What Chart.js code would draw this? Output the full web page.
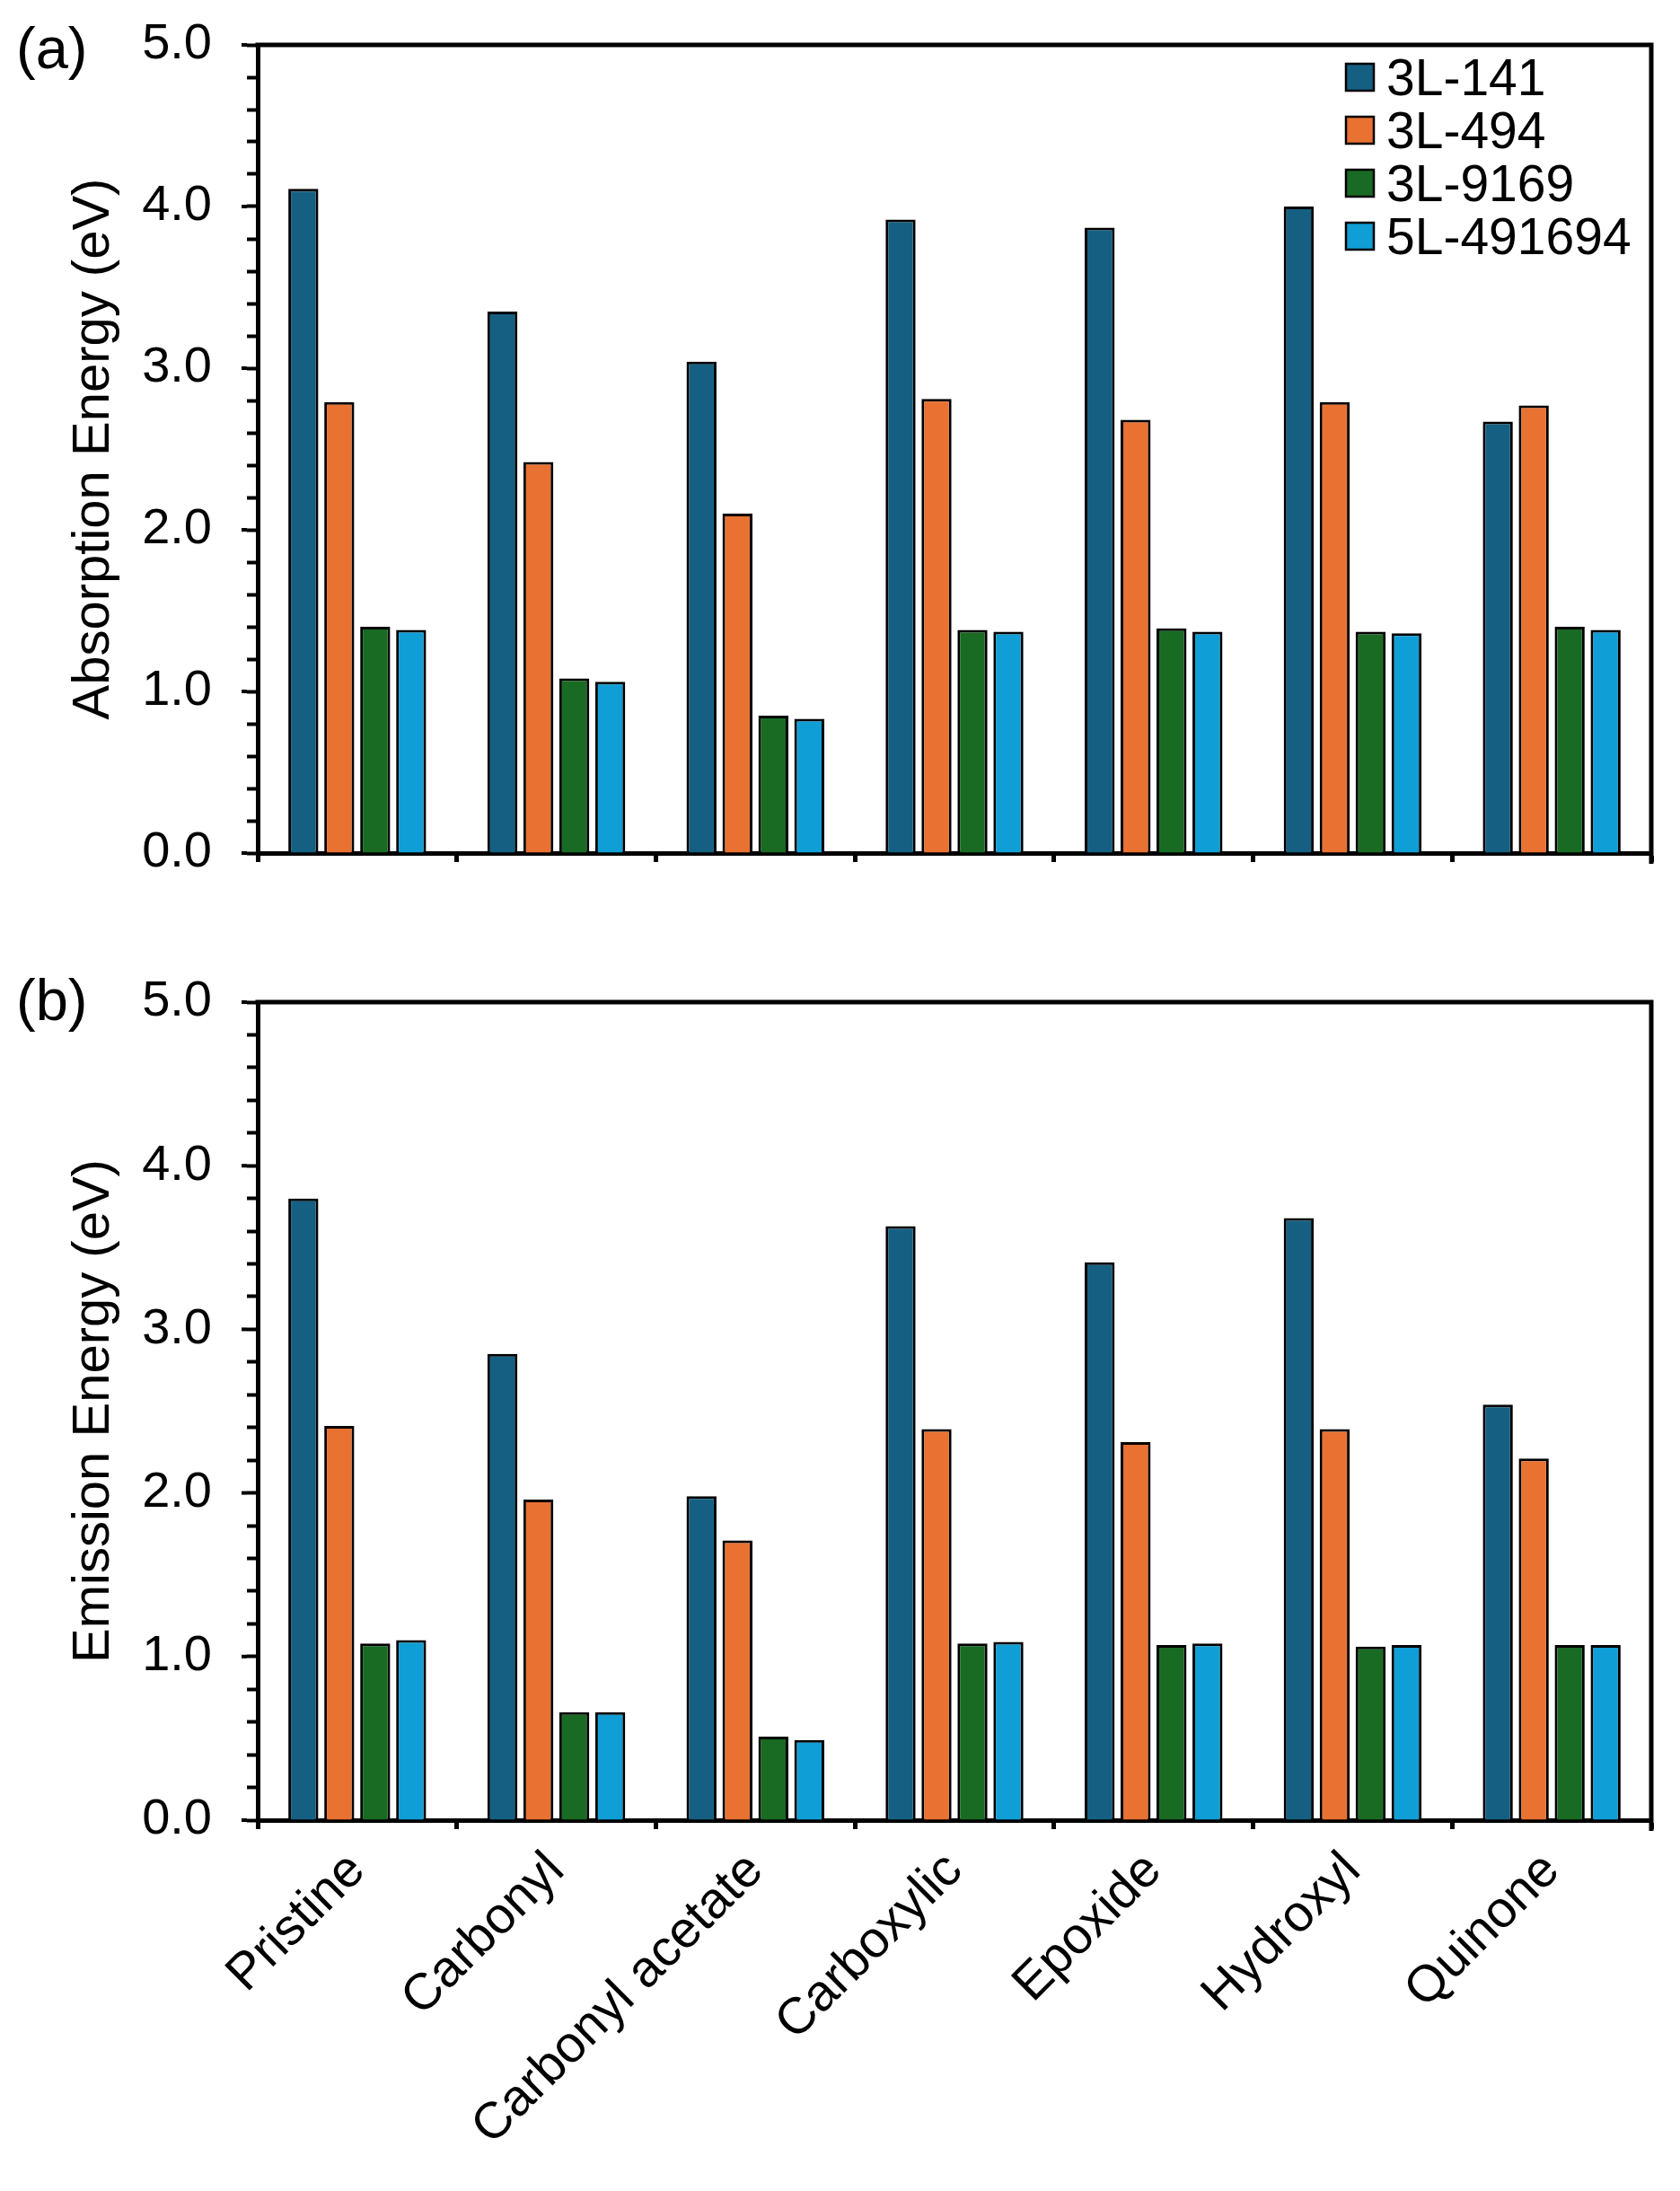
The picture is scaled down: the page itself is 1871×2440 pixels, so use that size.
<!DOCTYPE html>
<html lang="en">
<head>
<meta charset="UTF-8">
<title>Absorption and Emission Energy</title>
<script src="https://cdn.jsdelivr.net/npm/chart.js"></script>
<style>
  body { margin: 0; background: #fff; }
  #wrap { position: relative; width: 1871px; height: 2440px; }
  canvas { position: absolute; left: 0; }
  #chartA { top: 0; }
  #chartB { top: 1040px; }
</style>
</head>
<body>
<div id="wrap">
  <canvas id="chartA" width="1871" height="1040"></canvas>
  <canvas id="chartB" width="1871" height="1400"></canvas>
</div>
<script>
const categories = ['Pristine', 'Carbonyl', 'Carbonyl acetate', 'Carboxylic', 'Epoxide', 'Hydroxyl', 'Quinone'];
const seriesNames = ['3L-141', '3L-494', '3L-9169', '5L-491694'];
const seriesColors = ['#156082', '#E97132', '#196B24', '#0F9ED5'];

// (a) absorption energy (eV)
const abs3L141 = [4.11, 3.35, 3.04, 3.92, 3.87, 4.00, 2.67];
const abs3L494 = [2.79, 2.42, 2.10, 2.81, 2.68, 2.79, 2.77];
const abs3L9169 = [1.40, 1.08, 0.85, 1.38, 1.39, 1.37, 1.40];
const abs5L491694 = [1.38, 1.06, 0.83, 1.37, 1.37, 1.36, 1.38];

// (b) emission energy (eV)
const em3L141 = [3.80, 2.85, 1.98, 3.63, 3.41, 3.68, 2.54];
const em3L494 = [2.41, 1.96, 1.71, 2.39, 2.31, 2.39, 2.21];
const em3L9169 = [1.08, 0.66, 0.51, 1.08, 1.07, 1.06, 1.07];
const em5L491694 = [1.10, 0.66, 0.49, 1.09, 1.08, 1.07, 1.07];

const yMin = 0, yMax = 5, yStep = 0.2;

Chart.defaults.font.family = '"Liberation Sans", Arial, sans-serif';
Chart.defaults.color = '#000';

// box around the plot + longer major ticks
const framePlugin = {
    id: 'frame',
    afterDraw(chart) {
        const { ctx, chartArea: a } = chart;
        const ys = chart.scales.y;
        ctx.save();
        ctx.strokeStyle = '#000';
        ctx.lineWidth = 5;
        ctx.beginPath();
        ctx.moveTo(a.left - 2.5, a.top);
        ctx.lineTo(a.right, a.top);
        ctx.lineTo(a.right, a.bottom + 12);
        ctx.stroke();
        ctx.lineWidth = 4;
        for (let v = yMin; v <= yMax; v++) {
            const py = ys.getPixelForValue(v);
            ctx.beginPath();
            ctx.moveTo(a.left - 12, py);
            ctx.lineTo(a.left - 18, py);
            ctx.stroke();
        }
        ctx.restore();
    }
};

// panel letter + legend
const decoPlugin = {
    id: 'deco',
    afterDraw(chart, args, opts) {
        const ctx = chart.ctx;
        ctx.save();
        ctx.fillStyle = '#000';
        ctx.textBaseline = 'alphabetic';
        ctx.font = '65px "Liberation Sans", Arial, sans-serif';
        ctx.fillText(opts.letter, 18, opts.letterY);
        if (opts.legend) {
            ctx.font = '57px "Liberation Sans", Arial, sans-serif';
            chart.data.datasets.forEach((ds, i) => {
                const cy = 86 + i * 59;
                ctx.fillStyle = ds.backgroundColor;
                ctx.fillRect(1499, cy - 15, 31, 30);
                ctx.strokeStyle = '#000';
                ctx.lineWidth = 2.5;
                ctx.strokeRect(1499, cy - 15, 31, 30);
                ctx.fillStyle = '#000';
                ctx.fillText(ds.label, 1544, cy + 20);
            });
        }
        ctx.restore();
    }
};

function makeChart(id, yTitle, series, cfg) {
    return new Chart(document.getElementById(id), {
        type: 'bar',
        data: {
            labels: categories,
            datasets: series.map((vals, i) => ({
                label: seriesNames[i],
                data: vals,
                backgroundColor: seriesColors[i],
                borderColor: '#000',
                borderWidth: 3,
                categoryPercentage: 0.722,
                barPercentage: 0.835
            }))
        },
        options: {
            responsive: false,
            animation: false,
            devicePixelRatio: 1,
            layout: { padding: { left: 0, right: 32, top: cfg.top, bottom: cfg.bottom } },
            plugins: {
                legend: { display: false },
                tooltip: { enabled: false },
                deco: { letter: cfg.letter, letterY: cfg.letterY, legend: cfg.legend }
            },
            scales: {
                x: {
                    afterFit: s => {
                        s.height = cfg.xHeight;
                        s.paddingLeft = 0; s.paddingRight = 0;
                    },
                    grid: { offset: true, drawOnChartArea: false, tickLength: 10, tickWidth: 5, tickColor: '#000' },
                    border: { display: true, color: '#000', width: 5 },
                    ticks: {
                        display: cfg.showLabels, autoSkip: false, maxRotation: 45, minRotation: 45,
                        padding: 13, color: '#000', font: { size: 57 }
                    }
                },
                y: {
                    min: yMin, max: yMax,
                    afterFit: s => {
                        s.width = 287;
                        s.paddingTop = 0; s.paddingBottom = 0;
                    },
                    ticks: {
                        stepSize: yStep, autoSkip: false, padding: 39, color: '#000', font: { size: 56 },
                        callback: v => Math.abs(v - Math.round(v)) < 1e-6 ? v.toFixed(1) : ''
                    },
                    grid: { drawOnChartArea: false, tickLength: 12, tickWidth: 4, tickColor: '#000' },
                    border: { display: true, color: '#000', width: 5 },
                    title: { display: true, text: yTitle, color: '#000', font: { size: 58 }, padding: { top: 70, bottom: 0 } }
                }
            }
        },
        plugins: [framePlugin, decoPlugin]
    });
}

makeChart('chartA', 'Absorption Energy (eV)', [abs3L141, abs3L494, abs3L9169, abs5L491694],
    { top: 50, bottom: 60, xHeight: 30, showLabels: false, letter: '(a)', letterY: 76, legend: true });
makeChart('chartB', 'Emission Energy (eV)', [em3L141, em3L494, em3L9169, em5L491694],
    { top: 76, bottom: 0, xHeight: 413, showLabels: true, letter: '(b)', letterY: 96, legend: false });
</script>
</body>
</html>
